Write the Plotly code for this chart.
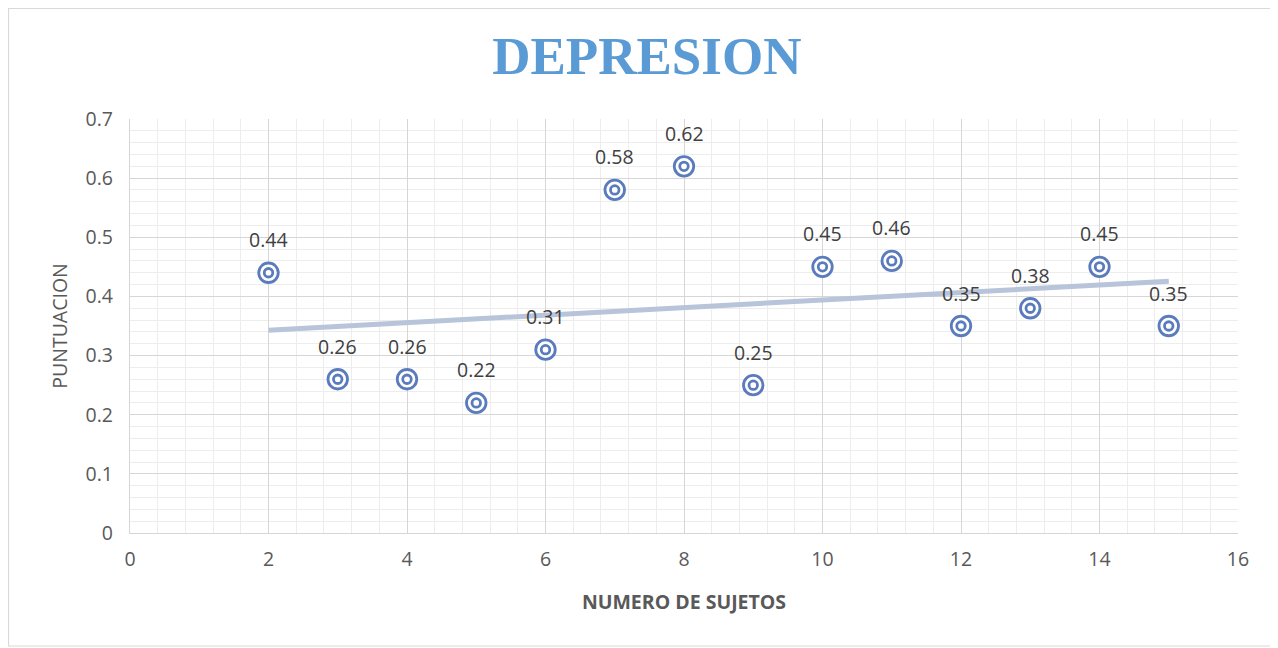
import numpy as np
import plotly.graph_objects as go

sujetos = [2, 3, 4, 5, 6, 7, 8, 9, 10, 11, 12, 13, 14, 15]
puntuacion = [0.44, 0.26, 0.26, 0.22, 0.31, 0.58, 0.62, 0.25, 0.45, 0.46, 0.35, 0.38, 0.45, 0.35]
x_ticks = [0, 2, 4, 6, 8, 10, 12, 14, 16]
y_ticks = [0, 0.1, 0.2, 0.3, 0.4, 0.5, 0.6, 0.7]
y_tick_labels = ["0", "0.1", "0.2", "0.3", "0.4", "0.5", "0.6", "0.7"]

slope, intercept = np.polyfit(sujetos, puntuacion, 1)
trend_x = [min(sujetos), max(sujetos)]
trend_y = [slope * v + intercept for v in trend_x]

# page has 8px body margin, so figure is 8px smaller and offset
W, H = 1270, 640
L, R, T, B = 122, 40, 111, 115
pw, ph = W - L - R, H - T - B

def px_x(p):
    return (p - L) / pw

def px_y(p):
    return (H - B - p) / ph

fig = go.Figure()
fig.add_trace(go.Scatter(x=trend_x, y=trend_y, mode="lines",
                         line=dict(color="#b8c4da", width=5),
                         hoverinfo="skip", showlegend=False))
fig.add_trace(go.Scatter(x=sujetos, y=puntuacion, mode="markers",
                         marker=dict(symbol="circle", size=19.5, color="white",
                                     line=dict(color="#5b7cbc", width=2.8)),
                         showlegend=False))
fig.add_trace(go.Scatter(x=sujetos, y=puntuacion, mode="markers",
                         marker=dict(symbol="circle-open", size=8.5,
                                     color="#5b7cbc", line=dict(width=2.8)),
                         showlegend=False, hoverinfo="skip"))

for xv, yv in zip(sujetos, puntuacion):
    fig.add_annotation(x=xv, y=yv, text=f"{yv:.2f}", showarrow=False,
                       yshift=33, font=dict(family="Open Sans, Liberation Sans", size=19.5, color="#404040"))

fig.add_shape(type="rect", xref="paper", yref="paper",
              x0=px_x(0.5), x1=px_x(1264), y0=px_y(638), y1=px_y(0.5),
              line=dict(color="#d9d9d9", width=1.2), fillcolor="rgba(0,0,0,0)", layer="below")

axis_font = dict(family="Open Sans, Liberation Sans", size=19.5, color="#595959")

fig.update_layout(
    width=W, height=H,
    margin=dict(l=L, r=R, t=T, b=B),
    paper_bgcolor="white", plot_bgcolor="white",
    title=dict(text="<b>DEPRESION</b>", x=0.503, xanchor="center", y=1 - 47 / H, yanchor="middle",
               font=dict(family="Liberation Serif, Times New Roman", size=53, color="#5b9bd5")),
    xaxis=dict(range=[0, 16], tickvals=x_ticks, showgrid=True, gridcolor="#d6d6d6", gridwidth=1.3,
               minor=dict(dtick=0.4, showgrid=True, gridcolor="#ededed", gridwidth=1.3),
               zeroline=False, showline=True, linecolor="#d6d6d6", linewidth=1.3, mirror=False,
               tickfont=axis_font, ticks="", ticklabelstandoff=8,
               title=dict(text="<b>NUMERO DE SUJETOS</b>", standoff=24,
                          font=dict(family="Open Sans, Liberation Sans", size=19.5, color="#595959"))),
    yaxis=dict(range=[0, 0.7], tickvals=y_ticks, ticktext=y_tick_labels, showgrid=True,
               gridcolor="#d6d6d6", gridwidth=1.3,
               minor=dict(dtick=0.02, showgrid=True, gridcolor="#ededed", gridwidth=1.3),
               zeroline=False, showline=True, linecolor="#d6d6d6", linewidth=1.3,
               tickfont=axis_font, ticks="", ticklabelstandoff=12,
               title=dict(text="PUNTUACION", standoff=12,
                          font=dict(family="Open Sans, Liberation Sans", size=19.5, color="#595959"))),
)
fig.write_html("out.html")
